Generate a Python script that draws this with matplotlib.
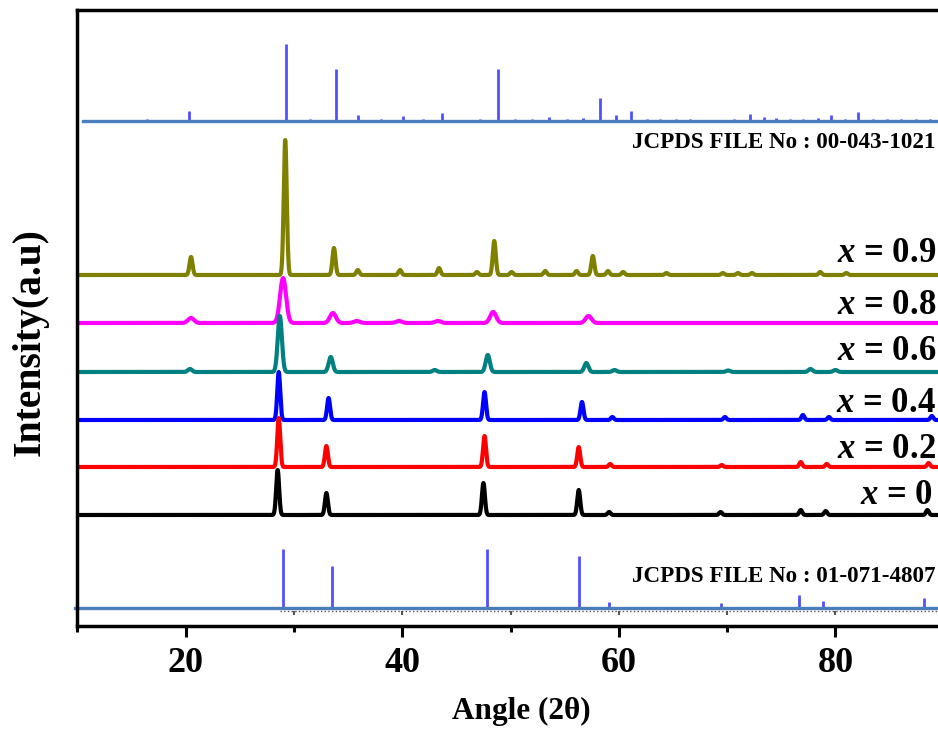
import numpy as np
import matplotlib
matplotlib.use('Agg')
import matplotlib.pyplot as plt

plt.rcParams['font.family'] = ['Liberation Serif', 'DejaVu Serif']
plt.rcParams['font.weight'] = 'bold'
plt.rcParams['mathtext.fontset'] = 'custom'
plt.rcParams['mathtext.it'] = 'Liberation Serif:italic:bold'
plt.rcParams['mathtext.rm'] = 'Liberation Serif:bold'

# peak positions (2theta) and heights (a.u.)
labels = ['0.9', '0.8', '0.6', '0.4', '0.2', '0']
colors = ['#808000', '#ff00ff', '#008080', '#0000ff', '#ff0000', '#000000']
offsets = [351, 303, 254, 206, 159, 111]
fwhm = [0.33, 0.65, 0.45, 0.32, 0.32, 0.32]

pos_09 = [20.5, 29.2, 33.7, 35.9, 39.8, 43.4, 46.9, 48.5, 50.1, 53.2, 56.1, 57.6,
          59.0, 60.4, 64.4, 69.6, 71.0, 72.3, 78.6, 81.0]
h_09 = [18, 135, 27, 5, 5, 7, 3, 34, 3, 4, 4, 19, 4, 3, 2, 2, 2, 2, 3, 2]
pos_08 = [20.5, 29.0, 33.6, 35.8, 39.7, 43.3, 48.4, 57.2]
h_08 = [5, 45, 10, 2, 2, 2, 11, 7]
pos_06 = [20.4, 28.7, 33.4, 43.0, 47.9, 57.0, 59.6, 70.1, 77.7, 80.0]
h_06 = [3, 56, 15, 2, 17, 9, 2, 1.5, 3, 2]
pos_04 = [28.6, 33.2, 47.6, 56.6, 59.4, 69.8, 77.0, 79.4, 88.9]
h_04 = [48, 22, 28, 18, 3, 3, 5, 3, 4]
pos_02 = [28.6, 33.0, 47.6, 56.3, 59.2, 69.5, 76.8, 79.2, 88.6]
h_02 = [49, 21, 31, 20, 3, 2, 5, 3, 4]
pos_00 = [28.5, 33.0, 47.5, 56.3, 59.1, 69.4, 76.8, 79.1, 88.5]
h_00 = [45, 22, 32, 25, 3, 3, 5, 4, 5]

peaks = [(pos_09, h_09), (pos_08, h_08), (pos_06, h_06),
         (pos_04, h_04), (pos_02, h_02), (pos_00, h_00)]
# right end of each label (2theta) and its height (a.u.)
label_xy = [(89.3, 373), (89.3, 321), (89.3, 274), (89.3, 223), (89.3, 177), (89.0, 131)]

# reference cards
ref_top_pos = [16.4, 20.3, 29.27, 31.5, 33.9, 35.9, 38.0, 40.1, 41.9, 43.7, 47.2, 48.8,
               50.4, 52.0, 53.6, 55.2, 56.7, 58.3, 59.7, 61.1, 62.6, 63.8, 65.3, 66.6,
               70.6, 72.1, 73.4, 74.5, 75.8, 77.0, 78.4, 79.6, 80.9, 82.1, 83.5, 84.8,
               86.1, 87.4, 88.7]
ref_top_h = [2, 10, 77, 2, 52, 6, 2, 5, 2, 8, 2, 52, 2, 2, 4, 2, 3, 23, 6, 10, 2, 2, 2, 2,
             2, 7, 4, 3, 2, 2, 3, 6, 2, 9, 2, 2, 2, 2, 2]
ref_top_base = 505
ref_bot_pos = [29.0, 33.55, 47.8, 56.3, 59.1, 69.4, 76.65, 78.9, 88.2]
ref_bot_h = [59, 42, 59, 52, 6, 5, 13, 7, 10]
ref_bot_base = 18
dotted_ticks = [30, 40, 50, 60, 70, 80]

fig = plt.figure(figsize=(9.38, 7.29), dpi=100)
ax = fig.add_axes([77.3 / 938, 103 / 729, (943.7 - 77.3) / 938, 616 / 729])

tt = np.linspace(10, 90, 6000)
for (p, h), off, c, w in zip(peaks, offsets, colors, fwhm):
    y = np.full_like(tt, float(off))
    s = w / 2.355
    for pk, hk in zip(p, h):
        y += hk * np.exp(-0.5 * ((tt - pk) / s) ** 2)
    ax.plot(tt, y, color=c, lw=3.0, solid_joinstyle='round')

for (lx, ly), lab in zip(label_xy, labels):
    ax.text(lx, ly, r'$x$ = ' + lab, fontsize=25, fontweight='bold',
            ha='right', va='center')

# top card
ax.vlines(ref_top_pos, ref_top_base, np.array(ref_top_h) + ref_top_base,
          color='#5050ff', lw=2)
ax.plot([10.5, 90], [ref_top_base, ref_top_base], color='#4a7ebb', lw=2.4)
ax.text(89.2, 483, 'JCPDS FILE No : 00-043-1021', fontsize=16.6, fontweight='bold',
        ha='right', va='center')

# bottom card
ax.plot([28.7, 90], [ref_bot_base - 3, ref_bot_base - 3], color='#555555',
        lw=1.0, ls=':')
ax.vlines(dotted_ticks, ref_bot_base - 7, ref_bot_base - 3, color='#555555', lw=1.5)
ax.vlines(ref_bot_pos, ref_bot_base, np.array(ref_bot_h) + ref_bot_base,
          color='#5050ff', lw=2)
ax.plot([9.8, 90], [ref_bot_base, ref_bot_base], color='#4a7ebb', lw=2.4,
        clip_on=False)
ax.text(89.2, 49, 'JCPDS FILE No : 01-071-4807', fontsize=16.6, fontweight='bold',
        ha='right', va='center')

ax.set_xlim(10, 90)
ax.set_ylim(0, 616)
ax.set_xticks([20, 40, 60, 80])
ax.set_xticks([10, 30, 50, 70, 90], minor=True)
ax.set_yticks([])
ax.tick_params(axis='x', which='major', length=8, width=2.2, labelsize=26, pad=7)
ax.tick_params(axis='x', which='minor', length=4.5, width=2.2)
for lab in ax.get_xticklabels():
    lab.set_fontweight('bold')
for sp in ax.spines.values():
    sp.set_linewidth(2.5)

fig.text(521 / 938, 1 - 711 / 729, 'Angle (2θ)', fontsize=22.5, fontweight='bold',
         ha='center', va='center')
fig.text(30 / 938, 1 - 342 / 729, 'Intensity(a.u)', fontsize=28.5, fontweight='bold',
         ha='center', va='center', rotation=90)

fig.savefig('out.png', dpi=100)
